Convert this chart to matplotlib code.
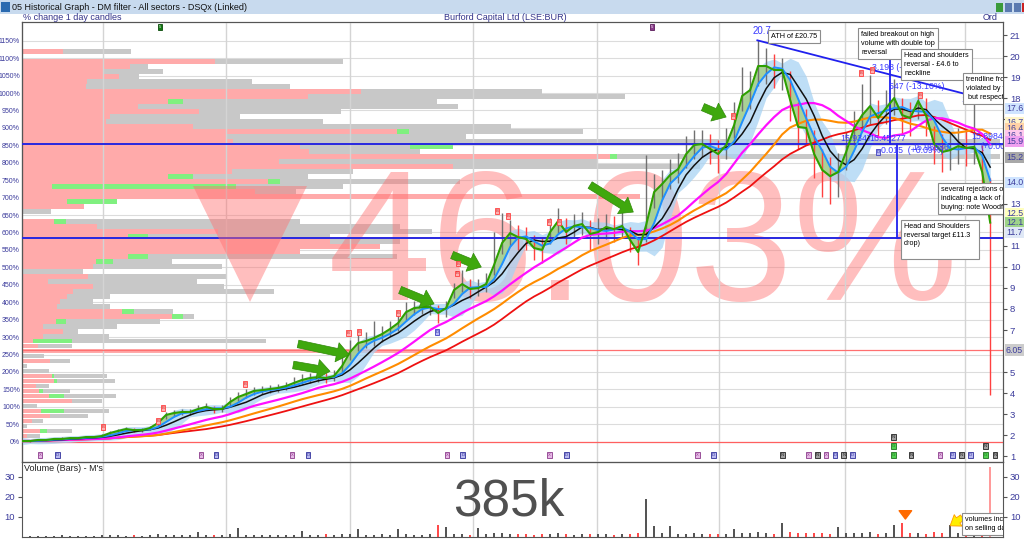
import numpy as np
import pandas as pd
import matplotlib.pyplot as plt
from matplotlib.patches import Rectangle, Polygon
from matplotlib.transforms import blended_transform_factory

plt.rcParams['font.family'] = ['Liberation Sans', 'DejaVu Sans']

W, H = 1024, 543

# Burford Capital, one sample per ~2 weeks (GBP)
close = [1.73, 1.73, 1.78, 1.78, 1.83, 1.83, 1.87, 1.87, 1.92, 1.92,
         1.97, 2.11, 2.21, 2.30, 2.25, 2.25, 2.35, 2.59, 2.97, 3.06,
         3.11, 3.11, 3.25, 3.35, 3.25, 3.25, 3.58, 3.82, 3.96, 4.11,
         4.15, 4.20, 4.25, 4.34, 4.49, 4.63, 4.72, 4.77, 4.72, 4.82,
         5.29, 5.96, 6.38, 6.48, 6.62, 6.81, 7.05, 7.33, 7.85, 8.04,
         8.09, 8.09, 7.81, 8.04, 8.90, 9.18, 8.95, 8.99, 9.18, 10.09,
         11.13, 11.60, 11.41, 11.32, 10.89, 10.80, 11.65, 12.17, 11.65, 11.94,
         12.03, 11.56, 11.65, 11.89, 11.79, 11.94, 11.27, 10.70, 11.98, 13.55,
         13.93, 14.36, 14.64, 15.35, 15.78, 15.83, 15.59, 15.35, 15.78, 16.73,
         18.11, 18.39, 19.53, 19.53, 19.34, 19.34, 17.92, 16.64, 16.59, 15.35,
         14.60, 14.30, 14.50, 15.45, 16.59, 17.20, 17.63, 17.06, 17.54, 18.01,
         17.20, 17.06, 17.87, 17.16, 15.83, 15.45, 15.54, 15.73, 15.64, 15.69,
         14.50, 12.10]
high = [1.78, 1.79, 1.83, 1.84, 1.88, 1.90, 1.93, 1.92, 1.98, 1.99,
        2.05, 2.20, 2.30, 2.40, 2.36, 2.34, 2.45, 2.75, 3.12, 3.20,
        3.26, 3.25, 3.42, 3.52, 3.40, 3.45, 3.80, 4.05, 4.20, 4.30,
        4.35, 4.40, 4.45, 4.55, 4.75, 4.90, 4.95, 5.00, 4.95, 5.10,
        5.95, 6.55, 6.85, 6.90, 7.45, 7.20, 7.45, 7.70, 8.35, 8.40,
        8.45, 8.45, 8.20, 8.40, 9.25, 9.85, 9.40, 9.40, 9.70, 11.65,
        12.55, 12.20, 12.00, 11.90, 11.50, 11.40, 12.30, 12.80, 12.30, 12.50,
        12.60, 12.20, 12.30, 12.50, 12.40, 12.90, 11.90, 11.30, 15.30, 14.40,
        14.60, 15.10, 15.40, 16.20, 16.50, 16.50, 16.30, 16.00, 16.60, 17.80,
        19.50, 19.30, 20.75, 20.40, 20.10, 19.90, 19.30, 17.80, 17.50, 16.50,
        15.60, 15.20, 15.40, 16.40, 17.40, 18.70, 19.10, 17.90, 18.40, 18.90,
        18.00, 17.80, 18.30, 18.00, 16.70, 16.30, 16.40, 16.60, 16.50, 17.90,
        15.80, 14.20]
low = [1.68, 1.69, 1.72, 1.73, 1.77, 1.78, 1.81, 1.82, 1.86, 1.87,
       1.90, 2.02, 2.12, 2.20, 2.15, 2.16, 2.25, 2.45, 2.80, 2.92,
       2.98, 2.96, 3.10, 3.20, 3.08, 3.10, 3.40, 3.65, 3.78, 3.92,
       3.98, 4.02, 4.06, 4.15, 4.30, 4.42, 4.50, 4.55, 4.50, 4.60,
       5.00, 5.60, 6.00, 6.15, 6.25, 6.45, 6.70, 6.95, 7.45, 7.70,
       7.75, 7.70, 7.33, 7.60, 8.50, 8.80, 8.50, 8.60, 8.80, 9.60,
       10.60, 11.00, 10.80, 10.80, 10.30, 10.17, 11.10, 11.60, 11.10, 11.40,
       11.50, 10.80, 11.10, 11.30, 11.20, 11.40, 10.70, 10.08, 11.20, 12.80,
       13.20, 13.70, 14.00, 14.70, 15.10, 15.20, 14.90, 14.45, 15.10, 16.10,
       17.40, 17.50, 18.60, 18.70, 18.50, 18.40, 16.90, 15.60, 15.80, 14.20,
       13.30, 13.00, 13.30, 14.60, 15.80, 16.40, 16.80, 16.20, 16.80, 17.20,
       16.30, 16.20, 17.00, 16.20, 14.90, 14.50, 14.60, 14.90, 14.80, 14.90,
       13.10, 3.90]
# volume, millions of shares
volume = [0.6, 0.5, 0.7, 0.6, 0.5, 0.8, 0.6, 0.7, 0.5, 0.6, 0.9,
          1.0, 0.8, 0.7, 0.9, 0.6, 0.8, 1.4, 1.2, 0.9, 0.8, 1.0,
          2.5, 1.0, 0.8, 1.1, 1.3, 4.5, 1.2, 0.9, 1.0, 0.8, 1.1,
          1.2, 1.0, 3.0, 1.1, 0.9, 1.3, 1.0, 1.6, 1.4, 4.0, 1.2,
          1.1, 1.3, 1.0, 4.0, 1.5, 1.2, 1.1, 1.4, 6.0, 5.0, 1.6,
          1.3, 1.2, 4.5, 1.4, 1.8, 2.0, 1.5, 1.3, 1.6, 1.2, 1.4,
          1.5, 1.8, 1.3, 1.2, 1.6, 1.4, 1.3, 1.5, 1.2, 1.4, 1.3,
          2.0, 19.0, 5.5, 1.8, 5.5, 1.6, 1.4, 1.8, 1.5, 1.3, 1.6,
          1.5, 4.0, 2.2, 1.8, 2.5, 1.9, 1.6, 7.0, 2.4, 1.8, 2.0,
          2.2, 1.9, 1.6, 5.0, 1.8, 2.1, 2.0, 2.4, 1.7, 1.9, 6.0,
          7.0, 1.8, 2.0, 1.6, 2.6, 2.2, 6.0, 2.0, 1.8, 2.4, 3.0, 35.0]

# volume-at-price profile, top row first (100k shares)
prof_sell = [4.1, 0, 19.3, 10.8, 8.1, 9.7, 6.5, 6.4, 33.9, 28.6,
             14.6, 11.6, 17.7, 8.8, 8.4, 17.1, 37.5, 20.5, 21.1, 27.8,
             28.7, 58.8, 25.7, 43.1, 21.0, 14.6, 24.6, 3.0, 23.3, 61.8,
             4.5, 6.2, 0, 0, 3.2, 7.5, 19.6, 10.6, 30.8, 35.8,
             27.8, 10.6, 7.4, 7.1, 0, 6.6, 2.6, 7.1, 5.1, 4.5,
             3.8, 3.5, 10.0, 15.0, 3.4, 2.1, 4.1, 2.1, 1.1, 1.6,
             49.8, 0, 2.8, 0, 0, 3.0, 3.2, 1.4, 1.7, 2.7,
             5.0, 0, 1.9, 2.8, 1.0, 0, 1.8, 0.5, 0.8]
prof_total = [10.9, 0, 32.1, 12.6, 14.1, 11.7, 23.0, 26.8, 52.0, 60.3,
              41.5, 43.6, 31.9, 21.8, 30.1, 48.9, 56.1, 44.4, 97.8, 43.1,
              39.8, 97.8, 57.6, 67.8, 33.1, 28.6, 43.8, 32.1, 27.4, 61.8,
              9.5, 6.2, 2.9, 0, 27.8, 37.8, 41.0, 30.8, 37.8, 35.8,
              27.8, 37.5, 15.0, 20.0, 6.1, 20.5, 17.5, 20.2, 25.2, 8.8,
              7.1, 8.8, 15.1, 17.2, 13.8, 9.5, 5.6, 8.7, 24.4, 5.0,
              49.8, 2.2, 4.8, 0.5, 2.7, 8.5, 9.3, 2.7, 4.8, 9.4,
              8.0, 1.5, 8.7, 6.6, 2.1, 0.5, 5.0, 1.8, 0.8]
green_row = [10, 16, 19, 21, 25, 26, 27, 30, 34, 37, 41, 42, 52, 53, 54, 58, 65, 66, 68, 69, 72, 76]
green_lo = [14.6, 37.5, 38.8, 58.8, 14.6, 24.6, 3.0, 4.5, 3.2, 10.6, 10.6, 7.4, 10.0, 15.0, 3.4, 1.1, 3.0, 3.2, 1.7, 2.7, 1.9, 1.8]
green_hi = [16.1, 38.7, 43.1, 59.5, 17.1, 25.8, 21.4, 9.5, 4.4, 12.6, 12.6, 9.1, 11.2, 16.1, 4.4, 5.0, 3.2, 3.5, 2.1, 4.2, 4.2, 2.5]
prof_top, prof_step = 20.233, 0.2373

# signal flags on the price line
sig_x = [10.1, 17.0, 17.6, 27.9, 40.8, 42.1, 47.0, 54.4, 54.5, 59.4, 60.7, 65.9, 67.1, 88.9, 104.9, 106.2, 112.25]
sig_p = [2.40, 2.68, 3.30, 4.44, 6.86, 6.91, 7.81, 9.70, 10.14, 12.65, 12.41, 12.13, 12.13, 17.16, 19.20, 19.34, 18.15]
div_x = [51.9, 107.0]
div_p = [6.91, 15.45]

# event boxes along the bottom of the price panel
ev_x = [2.25, 4.4, 22.4, 24.25, 33.75, 35.75, 53.1, 55.1, 65.9, 68.0, 84.4, 86.4,
        95.0, 98.3, 99.4, 100.5, 101.6, 102.7, 103.8, 108.9, 108.9, 108.9, 111.1,
        114.75, 116.3, 117.4, 118.5, 120.4, 120.4, 121.6]
ev_kind = ['X', 'D', 'X', 'D', 'X', 'D', 'X', 'D', 'X', 'D', 'X', 'D',
           'N', 'X', 'N', 'X', 'D', 'N', 'D', 'G', 'G', 'N', 'N',
           'X', 'D', 'N', 'D', 'G', 'N', 'N']
ev_stack = [0, 0, 0, 0, 0, 0, 0, 0, 0, 0, 0, 0,
            0, 0, 0, 0, 0, 0, 0, 0, 1, 2, 0,
            0, 0, 0, 0, 0, 1, 0]

last_vals = ['17.6', '16.7', '16.4', '16.1', '15.9', '15.2', '14.0', '12.5', '12.1', '11.7', '6.05']
last_pos = [17.5, 16.85, 16.55, 16.25, 15.95, 15.2, 14.0, 12.55, 12.1, 11.65, 6.05]
last_cols = ['#cfe4ff', '#fff4c8', '#ffd2a6', '#ffc8ec', '#f0a0f0', '#a8a8a8', '#cfe4ff', '#ffffc0',
             '#9ed489', '#dfe8f6', '#cccccc']

period_lines = [10.1, 25.5, 41.0, 56.4, 71.8, 87.1, 102.8, 117.9]

PCT0, PCT_K = 1.70, 0.01655


def to_pct(p):
    return (p - PCT0) / PCT_K


def from_pct(q):
    return PCT0 + q * PCT_K


def box(x0, y0, w, h):
    return [x0 / W, 1 - (y0 + h) / H, w / W, h / H]


fig = plt.figure(figsize=(W / 100, H / 100), dpi=100)
ax = fig.add_axes(box(22, 22, 981, 440))
axv = fig.add_axes(box(22, 462, 981, 75))
axp = ax.twiny()
ax.set_zorder(axp.get_zorder() + 1)
ax.patch.set_visible(False)

x = np.arange(len(close))
s = pd.Series(close)
ma_blue = s.rolling(3, min_periods=1).mean()
ma_black = s.rolling(5, min_periods=1).mean()
ma_mag = s.rolling(12, min_periods=1).mean()
ma_orange = s.rolling(18, min_periods=1).mean()
ma_red = s.rolling(24, min_periods=1).mean()
band_mid = s.rolling(4, min_periods=1).mean()
band_sd = s.rolling(4, min_periods=1).std().fillna(0.05)

# ---- volume profile (behind everything)
levels = prof_top - prof_step * np.arange(len(prof_total))
for q in range(0, 1151, 50):
    axp.axhline(from_pct(q), color='#dcdcdc', lw=0.8, zorder=0)
axp.barh(levels, prof_total, height=prof_step * 0.92, color='#c8c8c8', lw=0, zorder=1)
axp.barh(levels, prof_sell, height=prof_step * 0.92, color='#ffaaaa', lw=0, zorder=2)
axp.barh(levels[green_row], np.subtract(green_hi, green_lo), left=green_lo,
         height=prof_step * 0.92, color='#80f080', lw=0, zorder=3)
axp.set_xlim(0, 98.1)
axp.set_xticks([])
axp.tick_params(top=False, labeltop=False)

# ---- price panel
for xv in period_lines:
    ax.axvline(xv, color='#d4d4d4', lw=1, zorder=0)
ax.axhline(from_pct(0), color='#ff6060', lw=0.9, zorder=1)
ax.axhline(6.05, color='#ff7070', lw=0.9, zorder=1)
ax.axhline(15.83, color='#2828e0', lw=1.4, zorder=4)
ax.axhline(11.37, color='#2828e0', lw=1.4, zorder=4)

ax.fill_between(x, band_mid - 1.0 * band_sd - 0.12, band_mid + 1.0 * band_sd + 0.12,
                color='#a9d3f3', alpha=0.75, lw=0, zorder=2)
ax.fill_between(x, close, ma_blue, color='#a6cf85', alpha=0.85, lw=0, zorder=2.5)

ccol = ['#777777'] + ['#ff4040' if close[i] < close[i - 1] else '#707070' for i in range(1, len(close))]
ax.vlines(x, low, high, colors=ccol, lw=1.0, zorder=3)

ax.plot(x, ma_red, color='#ee1111', lw=1.3, zorder=5)
ax.plot(x, ma_orange, color='#ff8c00', lw=1.5, zorder=5)
ax.plot(x, ma_mag, color='#ff10ff', lw=1.6, zorder=5)
ax.plot(x, ma_black, color='#111111', lw=1.1, zorder=5)
ax.plot(x, ma_blue, color='#1e8fff', lw=1.4, zorder=6)
ax.plot(x, close, color='#2ea000', lw=1.5, zorder=7)

# trendline and head-and-shoulders drawing
ax.plot([91.9, 121.0], [20.75, 17.9], color='#2020ee', lw=1.3, zorder=6)
ax.plot([108.5, 108.5], [20.2, 15.83], color='#2020ee', lw=1.3, zorder=6)
ax.plot([109.4, 109.4], [15.83, 11.37], color='#2020ee', lw=1.3, zorder=6)
blue_txt = [(91.3, 20.95, '20.7', 7), (117.4, 17.75, '17.55088', 6.3), (106.2, 19.25, '3.198 (-1', 6.3),
            (108.4, 18.33, '547 (-13.10%)', 6.3), (105.9, 15.9, '16.45277', 6.3), (102.3, 15.9, '15.9347', 6.3),
            (107.3, 15.3, '0.015  (+0.09%)', 6.3), (111.3, 15.45, '15.96986', 6.3),
            (118.6, 15.95, '15.89849', 6.3), (119.8, 15.5, '(+0.00%)', 6.3), (115.0, 11.45, '11.34414', 6.3)]
for tx, ty, t, fs in blue_txt:
    ax.text(tx, ty, t, color='#3a3aff', fontsize=fs, va='bottom', ha='left', zorder=8, clip_on=True)

# green arrows
arrows = [((33.9, 5.34), (38.5, 5.04)), ((34.5, 6.34), (40.9, 5.82)), ((47.25, 8.90), (51.5, 8.24)),
          ((53.75, 10.56), (57.4, 9.99)), ((71.0, 13.88), (76.4, 12.60)), ((85.1, 17.58), (88.0, 17.11))]
for tail, tip in arrows:
    ax.annotate('', xy=tip, xytext=tail, zorder=9,
                arrowprops=dict(arrowstyle='simple,head_width=1.4,head_length=0.9,tail_width=0.55',
                                fc='#3fa80e', ec='#2f8a08', lw=0.5, shrinkA=0, shrinkB=0))

# signal flags
for sx, sp in zip(sig_x, sig_p):
    ax.text(sx, sp, 'B', fontsize=3.0, color='#cc2222', ha='center', va='center', zorder=9,
            bbox=dict(boxstyle='square,pad=0.15', fc='#ffb0b0', ec='#ff4040', lw=0.6))
for sx, sp in zip(div_x, div_p):
    ax.text(sx, sp, 'D', fontsize=3.0, color='#2222aa', ha='center', va='center', zorder=9,
            bbox=dict(boxstyle='square,pad=0.15', fc='#b8b8f4', ec='#4040c0', lw=0.6))

ev_style = {'X': ('#e6b8e6', '#8a3a8a'), 'D': ('#b8b8ee', '#30309a'),
            'N': ('#a0a0a0', '#222222'), 'G': ('#50d050', '#207020')}
for ex, ek, es in zip(ev_x, ev_kind, ev_stack):
    fc, ec = ev_style[ek]
    ax.text(ex, 1.07 + 0.42 * es, ek, fontsize=3.0, color=ec, ha='center', va='center', zorder=9,
            bbox=dict(boxstyle='square,pad=0.2', fc=fc, ec=ec, lw=0.6))
ax.text(17.25, 21.38, '5', fontsize=3.0, color='white', ha='center', va='center', zorder=9,
        bbox=dict(boxstyle='square,pad=0.25', fc='#127a12', ec='#0a4a0a', lw=0.6))
ax.text(78.75, 21.38, '5', fontsize=3.0, color='white', ha='center', va='center', zorder=9,
        bbox=dict(boxstyle='square,pad=0.25', fc='#8a3a8a', ec='#5a1a5a', lw=0.6))

# note boxes
notes = [(93.6, 21.1, 'ATH of \u00a320.75'),
         (104.9, 21.19, 'failed breakout on high\nvolume with double top\nreversal'),
         (110.25, 20.19, 'Head and shoulders\nreversal - \u00a34.6 to\nneckline'),
         (118.0, 19.05, 'trendline from\nviolated by fa\n but respecte'),
         (114.9, 13.83, 'several rejections of 20\nindicating a lack of insti\nbuying: note Woodford'),
         (110.25, 12.08, 'Head and Shoulders   \nreversal target \u00a311.3\ndrop)\n ')]
for nx, ny, t in notes:
    ax.text(nx, ny, t, fontsize=5.2, va='top', ha='left', zorder=10, clip_on=True, linespacing=1.35,
            bbox=dict(boxstyle='square,pad=0.45', fc='white', ec='#8c8c8c', lw=0.8))

# big percent change overlay
fig.text(328 / W, 1 - 300 / H, '46.03%', fontsize=134, color='#ff7070', alpha=0.45,
         ha='left', va='baseline', zorder=0.5)
fig.patches.append(Polygon([(193 / W, 1 - 186 / H), (307 / W, 1 - 186 / H), (250 / W, 1 - 302 / H)],
                           closed=True, transform=fig.transFigure, fc='#ff7070', alpha=0.45, lw=0))

ax.set_xlim(0, 122.6)
ax.set_ylim(0.736, 21.62)
ax.set_xticks([])
ax.yaxis.tick_right()
ax.set_yticks([1, 2, 3, 4, 5, 7, 8, 9, 10, 11, 13, 17, 18, 19, 20, 21])
ax.tick_params(axis='y', labelsize=6.8, labelcolor='#3c3c9c', color='#555555', length=3, pad=2)
trans = blended_transform_factory(ax.transAxes, ax.transData)
for v, pos, c in zip(last_vals, last_pos, last_cols):
    ax.text(1.003, pos, v, transform=trans, fontsize=6.3, color='#3c3c9c', va='center', ha='left',
            clip_on=False, zorder=11, bbox=dict(boxstyle='square,pad=0.12', fc=c, ec='none'))

sec = ax.secondary_yaxis('left', functions=(to_pct, from_pct))
sec.set_yticks(range(0, 1151, 50))
sec.set_yticklabels([f'{q}%' for q in range(0, 1151, 50)])
sec.tick_params(labelsize=5.0, labelcolor='#3c3c9c', length=0, pad=1.5)
for sp in list(ax.spines.values()) + list(axp.spines.values()):
    sp.set_color('#555555')
sec.spines['left'].set_color('#555555')

# ---- volume panel
vcol = ['#555555'] + ['#ff4a4a' if close[i] < close[i - 1] else '#555555' for i in range(1, len(close))]
vcol[-1] = '#ff9a9a'
axv.bar(x, volume, width=0.3, color=vcol, lw=0)
for xv in period_lines:
    axv.axvline(xv, color='#d4d4d4', lw=1, zorder=0)
axv.set_xlim(0, 122.6)
axv.set_ylim(0, 37.5)
axv.set_xticks([])
axv.set_yticks([10, 20, 30])
axv.tick_params(axis='y', labelsize=6.8, labelcolor='#3c3c9c', left=True, right=True,
                labelleft=True, labelright=True, length=3, color='#555555', pad=2)
for sp in axv.spines.values():
    sp.set_color('#555555')
axv.text(0.3, 36.5, "Volume (Bars) - M's", fontsize=6.5, va='top', ha='left', color='#222222')
axv.annotate('', xy=(110.4, 7.6), xytext=(110.4, 12.0),
             arrowprops=dict(arrowstyle='simple,head_width=0.9,head_length=0.6,tail_width=0.35',
                             fc='#ff6a00', ec='#ff6a00'))
axv.annotate('', xy=(115.7, 4.8), xytext=(117.8, 10.5),
             arrowprops=dict(arrowstyle='simple,head_width=1.0,head_length=0.7,tail_width=0.45',
                             fc='#ffee00', ec='#ff9900', lw=0.6))
axv.text(117.9, 10.3, 'volumes increa\non selling days', fontsize=5.2, va='top', ha='left', clip_on=True,
         linespacing=1.35, bbox=dict(boxstyle='square,pad=0.45', fc='white', ec='#8c8c8c', lw=0.8))
fig.text(453 / W, 1 - 515 / H, '385k', fontsize=37, color='#505050', ha='left', va='baseline')

# ---- window chrome
fig.patches.append(Rectangle((0, 1 - 14 / H), 1, 14 / H, transform=fig.transFigure,
                             fc='#c8daee', ec='none'))
fig.patches.append(Rectangle((1 / W, 1 - 12 / H), 9 / W, 10 / H, transform=fig.transFigure,
                             fc='#2a6ab0', ec='none'))
fig.text(12 / W, 1 - 7 / H, '05 Historical Graph - DM filter - All sectors - DSQx (Linked)',
         fontsize=6.5, va='center', ha='left', color='#111111')
for bx, bc in [(996, '#3a9a3a'), (1005, '#5a7ab0'), (1014, '#5a7ab0'), (1022, '#cc2222')]:
    fig.patches.append(Rectangle((bx / W, 1 - 12 / H), 7 / W, 9 / H, transform=fig.transFigure,
                                 fc=bc, ec='none'))
fig.text(23 / W, 1 - 17.5 / H, '% change 1 day candles', fontsize=6.5, va='center', color='#33338a')
fig.text(505 / W, 1 - 17.5 / H, 'Burford Capital Ltd (LSE:BUR)', fontsize=6.5, va='center', ha='center',
         color='#33338a')
fig.text(990 / W, 1 - 17.5 / H, 'Ord', fontsize=6.5, va='center', ha='center', color='#33338a')

fig.savefig('out.png', dpi=100)
